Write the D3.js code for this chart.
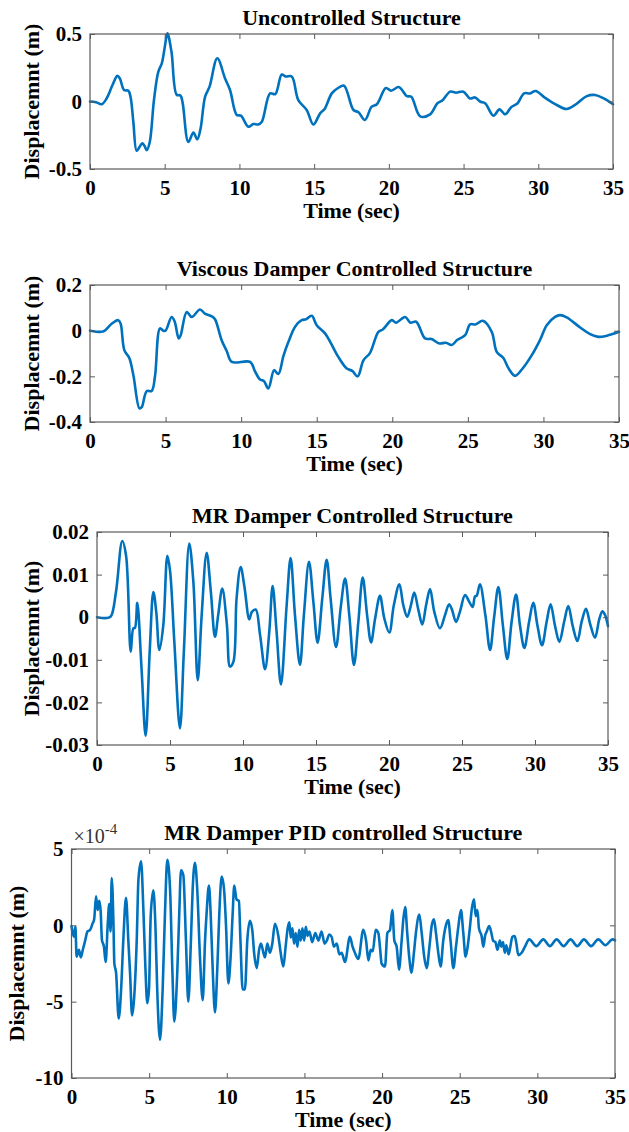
<!DOCTYPE html>
<html><head><meta charset="utf-8">
<script src="https://cdn.jsdelivr.net/npm/d3@7/dist/d3.min.js"></script>
<style>body{margin:0;background:#fff}svg{display:block}</style>
</head><body>
<svg id="c" width="629" height="1132"></svg>
<script>
// ---------------- DATA ----------------
const xTicks = [0, 5, 10, 15, 20, 25, 30, 35];

// Panel 1: Uncontrolled Structure (m)
const uncT = [0,0.4,0.78,1.1,1.5,1.83,2.0,2.28,2.57,2.72,2.9,3.12,3.3,3.5,3.65,3.8,4.0,4.28,4.57,4.8,5.0,5.18,5.45,5.8,6.05,6.2,6.58,6.92,7.18,7.4,7.7,8.0,8.52,9.04,9.37,9.82,10.1,10.6,10.93,11.26,11.5,12.05,12.4,12.83,13.1,13.5,13.94,14.5,14.95,15.4,15.7,16.18,16.6,17.0,17.63,17.97,18.4,18.85,19.2,19.8,20.15,20.64,20.85,21.2,21.5,22.1,22.76,23.25,23.6,24.1,24.5,24.99,25.43,25.77,26.1,26.44,27.0,27.4,27.78,28.2,28.6,29.05,29.45,29.83,30.45,31.24,31.9,32.56,33.25,33.8,34.35,35.0];
const uncV = [0,-0.005,-0.02,0.02,0.12,0.19,0.17,0.085,0.08,0.03,-0.15,-0.365,-0.34,-0.31,-0.33,-0.36,-0.3,0.01,0.22,0.28,0.4,0.505,0.37,0.05,0.045,-0.01,-0.3,-0.23,-0.28,-0.2,0.035,0.11,0.32,0.17,0.085,-0.1,-0.105,-0.187,-0.167,-0.17,-0.15,0.06,0.055,0.2,0.185,0.185,0.01,-0.063,-0.17,-0.088,-0.055,0.06,0.1,0.117,-0.063,-0.08,-0.137,-0.038,-0.02,0.1,0.08,0.107,0.09,0.04,0.035,-0.11,-0.095,-0.013,0.01,0.073,0.065,0.073,0.023,0.03,0.0,-0.013,-0.105,-0.058,-0.095,-0.04,-0.015,0.06,0.06,0.078,0.028,-0.026,-0.055,-0.017,0.04,0.048,0.025,-0.02];
const uncYTicks = [-0.5, 0, 0.5];
const uncYLabels = ["-0.5", "0", "0.5"];

// Panel 2: Viscous Damper Controlled Structure (m)
const viscT = [0,0.75,0.97,1.43,1.87,2.03,2.27,2.6,2.87,3.27,3.42,3.75,4.08,4.3,4.63,4.85,5.0,5.4,5.6,5.87,6.0,6.4,6.73,7.28,7.6,8.05,8.27,8.71,9.05,9.38,10.59,10.93,11.25,11.5,11.8,12.18,12.46,12.8,13.13,13.57,14.0,14.3,14.67,15.0,15.55,15.9,16.43,16.99,17.35,17.71,18.09,18.53,19.08,19.37,19.97,20.25,20.85,21.2,21.58,22.17,22.6,23.12,23.55,23.93,24.31,24.82,25.15,25.5,25.99,26.58,26.91,27.35,27.7,28.13,28.57,29.23,29.78,30.22,30.77,31.1,31.54,32.43,33.09,33.64,34.2,35.0];
const viscV = [0,-0.005,0,0.03,0.046,0.03,-0.085,-0.12,-0.195,-0.34,-0.335,-0.265,-0.264,-0.2,0.01,0.0,0.0,0.06,0.04,-0.034,-0.02,0.082,0.06,0.093,0.075,0.063,0.05,-0.042,-0.09,-0.137,-0.137,-0.18,-0.214,-0.22,-0.253,-0.173,-0.19,-0.11,-0.049,0.017,0.046,0.05,0.065,0.024,-0.012,-0.05,-0.115,-0.166,-0.176,-0.2,-0.13,-0.097,-0.005,0.005,0.046,0.035,0.06,0.035,0.039,-0.034,-0.037,-0.056,-0.053,-0.063,-0.04,-0.02,0.028,0.027,0.043,-0.005,-0.093,-0.12,-0.166,-0.198,-0.17,-0.107,-0.04,0.024,0.06,0.068,0.058,0.014,-0.015,-0.027,-0.022,-0.005];
const viscYTicks = [-0.4, -0.2, 0, 0.2];
const viscYLabels = ["-0.4", "-0.2", "0", "0.2"];

// Panel 3: MR Damper Controlled Structure (m)
const mrT = [0,0.66,0.95,1.3,1.73,1.99,2.31,2.49,2.6,2.76,3.05,3.33,3.62,3.86,4.06,4.27,4.54,4.82,5.0,5.3,5.68,5.95,6.32,6.6,6.9,7.17,7.51,7.8,8.08,8.3,8.58,8.9,9.11,9.34,9.56,9.84,10.1,10.43,10.6,10.87,11.17,11.51,11.8,12.03,12.3,12.6,12.99,13.26,13.56,13.9,14.17,14.52,14.82,15.11,15.43,15.73,16.0,16.37,16.7,16.99,17.28,17.6,17.9,18.2,18.5,18.77,19.05,19.38,19.68,20.02,20.33,20.71,20.98,21.25,21.5,21.73,22.0,22.28,22.54,22.81,23.1,23.49,23.84,24.11,24.3,24.59,24.86,25.21,25.5,25.73,25.89,26.0,26.23,26.6,26.92,27.2,27.49,27.8,28.1,28.4,28.7,28.97,29.27,29.6,29.88,30.17,30.48,30.8,31.07,31.37,31.67,32.0,32.28,32.58,32.9,33.2,33.49,33.77,34.11,34.4,34.62,34.8,35.0];
const mrV = [0,-0.0002,0.0002,0.0059,0.0179,0.0145,-0.0081,-0.0026,-0.0025,0.0034,-0.012,-0.0278,-0.0073,0.0059,0.0012,-0.0077,-0.0019,0.0144,0.011,-0.006,-0.0261,-0.008,0.0173,0.0083,-0.0148,0.0005,0.0151,0.0059,-0.0046,0.0005,0.0067,-0.0019,-0.0116,-0.0105,0.0044,0.0118,0.0071,-0.0005,0.0012,0.0018,-0.0042,-0.0122,-0.0034,0.0073,-0.0034,-0.0158,0.0028,0.0139,0.0005,-0.0112,0.0005,0.013,0.0036,-0.006,0.0044,0.0135,0.0044,-0.007,0.0025,0.0091,0.0005,-0.0112,-0.0011,0.0093,0.0005,-0.0059,-0.0003,0.005,-0.0003,-0.0036,0.0028,0.0077,0.0028,0.0001,0.0028,0.0058,0.0019,-0.0017,0.0028,0.0066,0.0013,-0.0026,0.0005,0.003,0.0019,-0.0011,0.0013,0.0052,0.0036,0.0024,0.0049,0.005,0.0077,0.0005,-0.0077,0.0,0.0071,-0.0019,-0.0098,-0.001,0.0053,-0.0019,-0.0072,-0.001,0.0034,-0.002,-0.0066,-0.001,0.003,-0.002,-0.0058,-0.001,0.0026,-0.002,-0.0056,-0.001,0.002,-0.0015,-0.0048,-0.0005,0.0014,0.0005,-0.0021];
const mrYTicks = [-0.03, -0.02, -0.01, 0, 0.01, 0.02];
const mrYLabels = ["-0.03", "-0.02", "-0.01", "0", "0.01", "0.02"];

// Panel 4: MR Damper PID controlled Structure (x1e-4 m)
const pidT = [0,0.15,0.25,0.33,0.48,0.6,0.73,0.88,1.03,1.2,1.35,1.46,1.58,1.68,1.79,1.88,1.96,2.09,2.2,2.33,2.43,2.52,2.59,2.7,2.76,2.87,3.04,3.19,3.34,3.51,3.66,3.77,3.9,4.03,4.2,4.31,4.48,4.63,4.76,4.88,4.99,5.1,5.27,5.4,5.52,5.7,5.87,6.02,6.17,6.35,6.5,6.62,6.81,6.94,7.05,7.2,7.37,7.52,7.69,7.8,7.95,8.1,8.27,8.45,8.6,8.7,8.85,8.96,9.09,9.24,9.39,9.52,9.67,9.82,9.95,10.1,10.25,10.38,10.48,10.63,10.78,10.88,11.02,11.17,11.32,11.49,11.64,11.77,11.93,12.08,12.2,12.36,12.46,12.61,12.78,12.93,13.1,13.32,13.47,13.64,13.79,13.92,14.03,14.12,14.23,14.33,14.44,14.55,14.66,14.76,14.87,14.98,15.09,15.2,15.32,15.5,15.7,15.9,16.1,16.3,16.44,16.6,16.75,16.9,17.08,17.25,17.4,17.61,17.93,18.1,18.25,18.47,18.79,18.97,19.12,19.27,19.4,19.59,19.76,19.87,19.97,20.19,20.34,20.51,20.66,20.79,20.94,21.09,21.26,21.37,21.49,21.62,21.75,21.9,22.05,22.18,22.4,22.55,22.72,22.87,23.05,23.2,23.34,23.47,23.62,23.77,23.94,24.11,24.26,24.41,24.59,24.76,24.91,25.08,25.23,25.38,25.51,25.66,25.77,25.92,26.03,26.14,26.24,26.41,26.52,26.63,26.74,26.9,27.05,27.15,27.3,27.43,27.58,27.68,27.79,27.9,28.0,28.15,28.26,28.39,28.54,28.65,28.77,28.99,29.2,29.48,29.93,30.38,30.81,31.24,31.69,32.14,32.57,33.0,33.46,33.92,34.38,34.85,35.0];
const pidV = [-0.05,-0.75,-0.1,-2.05,-1.6,-2.1,-1.6,-1.0,-0.4,-0.3,0.1,0.4,1.9,1.0,1.6,0.9,-0.96,-1.4,-2.4,0.0,1.4,-0.4,3.1,0.2,-2.5,-3.1,-6.1,-4.3,-0.9,1.8,-1.0,-3.1,-5.9,-4.8,-1.0,3.0,4.2,1.0,-2.8,-5.1,-4.2,0.6,2.3,0.1,-4.2,-7.5,-4.2,0.8,4.3,2.3,-3.1,-6.3,-3.1,0.8,3.6,3.3,-1.0,-5.0,-1.0,2.3,4.1,2.3,-2.0,-4.9,-1.0,0.8,2.6,0.8,-2.8,-5.7,-2.8,0.8,3.2,2.4,0.0,-3.8,-2.0,0.8,2.6,1.7,1.6,-1.0,-4.2,-4.2,-1.0,0.3,-0.3,-1.9,-2.8,-1.6,-1.2,-1.8,-2.1,-1.2,-1.8,-1.2,0.1,-0.7,-1.8,-2.7,-1.4,-0.2,0.2,-0.8,-0.2,-1.2,-0.5,-1.4,-0.3,-1.0,-0.2,-1.0,-0.1,-0.7,-0.4,-1.1,-0.5,-1.0,-0.4,-1.2,-1.0,-0.6,-0.75,-1.4,-1.2,-1.9,-1.8,-2.4,-0.75,-1.4,-1.8,-2.2,-0.3,-1.0,-2.3,-1.6,-1.7,-0.3,-0.5,-1.5,-2.5,-2.7,-0.5,-0.3,1.0,-1.0,-1.4,-2.9,-1.0,0.4,1.2,-0.5,-2.1,-3.1,-1.8,-0.5,0.7,-0.5,-2.1,-2.8,-1.4,0.0,0.4,-0.5,-1.8,-2.7,-1.0,0.0,0.35,-1.0,-2.8,-1.4,-0.1,1.0,-0.5,-2.05,-1.4,-0.1,1.0,1.7,0.6,1.0,-0.2,-0.7,-1.4,-0.7,-0.4,-0.05,-0.55,-1.0,-1.1,-1.6,-1.0,-1.4,-1.1,-1.8,-1.3,-1.9,-1.4,-0.75,-0.7,-1.2,-1.95,-1.8,-1.4,-0.92,-1.36,-0.92,-1.36,-0.92,-1.36,-0.92,-1.36,-0.92,-1.36,-0.92,-1.3,-0.92,-0.98];
const pidYTicks = [-10, -5, 0, 5];
const pidYLabels = ["-10", "-5", "0", "5"];

// ---------------- DRAWING ----------------
const svg = d3.select("#c");
svg.append("rect").attr("width", 629).attr("height", 1132).attr("fill", "#fff");
const FONT = "'Liberation Serif','Times New Roman',serif";
const BLUE = "#0072BD";
const BOX = "#5a5a5a";

function panel(p) {
  const x = d3.scaleLinear().domain([0, 35]).range([p.l, p.r]);
  const y = d3.scaleLinear().domain(p.yDomain).range([p.b, p.t]);
  const g = svg.append("g");

  const line = d3.line().x(d => x(d[0])).y(d => y(d[1])).curve(p.curve);
  g.append("path").datum(d3.zip(p.tt, p.vv))
    .attr("fill", "none").attr("stroke", BLUE).attr("stroke-width", 2.6)
    .attr("stroke-linejoin", "round").attr("stroke-linecap", "round")
    .attr("d", line);

  const styleAxis = (sel, withLabels) => {
    sel.select(".domain").remove();
    sel.selectAll(".tick line").attr("stroke", BOX).attr("stroke-width", 1);
    sel.selectAll(".tick text")
      .attr("fill", "#000").attr("font-family", FONT)
      .attr("font-weight", "bold").attr("font-size", 21);
    if (!withLabels) sel.selectAll(".tick text").remove();
  };

  const xb = g.append("g").attr("transform", `translate(0,${p.b})`)
    .call(d3.axisBottom(x).tickValues(xTicks).tickFormat(d3.format("d")).tickSize(-5).tickPadding(11));
  styleAxis(xb, true);
  const xt = g.append("g").attr("transform", `translate(0,${p.t})`)
    .call(d3.axisTop(x).tickValues(xTicks).tickSize(-5));
  styleAxis(xt, false);
  const yl = g.append("g").attr("transform", `translate(${p.l},0)`)
    .call(d3.axisLeft(y).tickValues(p.yTicks).tickFormat((d, i) => p.yLabels[i]).tickSize(-5).tickPadding(8));
  styleAxis(yl, true);
  const yr = g.append("g").attr("transform", `translate(${p.r},0)`)
    .call(d3.axisRight(y).tickValues(p.yTicks).tickSize(-5));
  styleAxis(yr, false);

  g.append("rect").attr("x", p.l).attr("y", p.t)
    .attr("width", p.r - p.l).attr("height", p.b - p.t)
    .attr("fill", "none").attr("stroke", BOX).attr("stroke-width", 1.2);

  const txt = (s) => s.attr("font-family", FONT).attr("font-weight", "bold").attr("fill", "#000");
  g.append("text").call(txt).attr("font-size", 22).attr("text-anchor", "middle")
    .attr("x", (p.l + p.r) / 2).attr("y", p.t - 9).text(p.title);
  g.append("text").call(txt).attr("font-size", 22).attr("text-anchor", "middle")
    .attr("x", (p.l + p.r) / 2).attr("y", p.b + 49).text("Time (sec)");
  g.append("text").call(txt).attr("font-size", 22).attr("text-anchor", "middle")
    .attr("transform", `translate(${p.yLabX},${(p.t + p.b) / 2}) rotate(-90)`)
    .text("Displacemnt (m)");

  if (p.exponent) {
    const e = g.append("text").attr("font-family", FONT).attr("fill", "#333")
      .attr("font-size", 20).attr("x", p.l + 2).attr("y", p.t - 6);
    e.append("tspan").text("×10");
    e.append("tspan").attr("dy", -9).attr("font-size", 15).text(p.exponent);
  }
}

panel({ l: 90, r: 613, t: 34, b: 169, yDomain: [-0.5, 0.5], tt: uncT, vv: uncV,
  yTicks: uncYTicks, yLabels: uncYLabels, title: "Uncontrolled Structure", yLabX: 39,
  curve: d3.curveCatmullRom.alpha(0.5) });
panel({ l: 90, r: 619, t: 285, b: 422, yDomain: [-0.4, 0.2], tt: viscT, vv: viscV,
  yTicks: viscYTicks, yLabels: viscYLabels, title: "Viscous Damper Controlled Structure", yLabX: 39,
  curve: d3.curveCatmullRom.alpha(0.5) });
panel({ l: 97, r: 608, t: 532, b: 745, yDomain: [-0.03, 0.02], tt: mrT, vv: mrV,
  yTicks: mrYTicks, yLabels: mrYLabels, title: "MR Damper Controlled Structure", yLabX: 39,
  curve: d3.curveCatmullRom.alpha(0.5) });
panel({ l: 71.5, r: 615, t: 849, b: 1078, yDomain: [-10, 5], tt: pidT, vv: pidV,
  yTicks: pidYTicks, yLabels: pidYLabels, title: "MR Damper PID controlled Structure", yLabX: 24,
  curve: d3.curveMonotoneX, exponent: "-4" });
</script>
</body></html>
